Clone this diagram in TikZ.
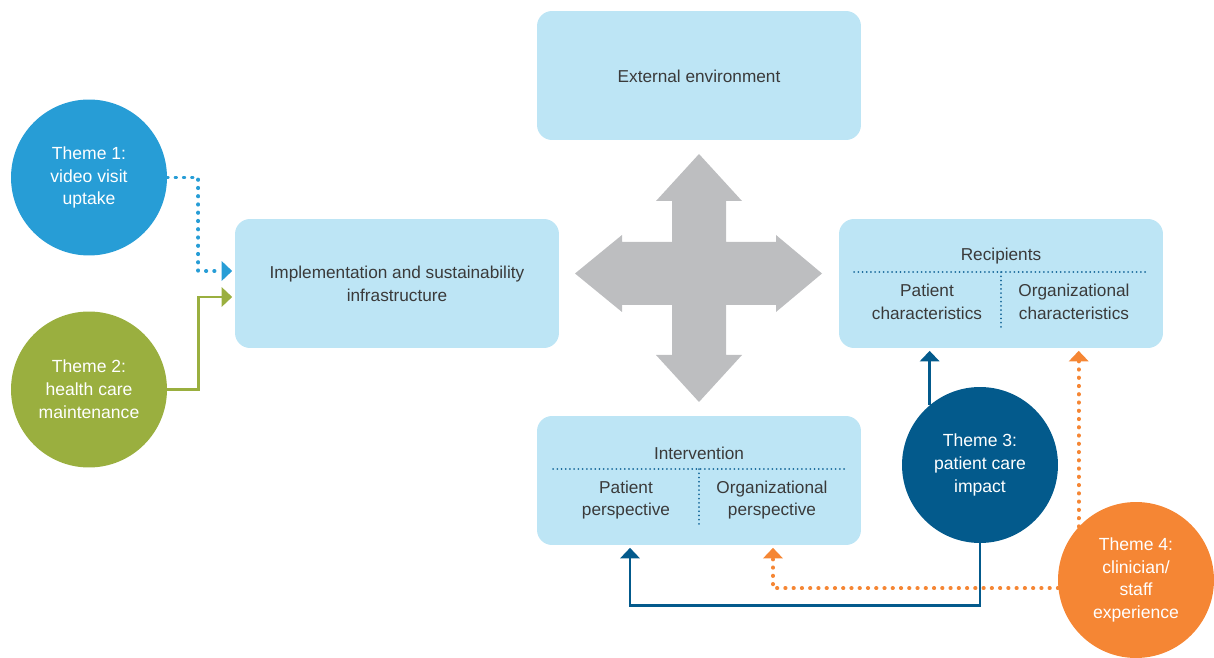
\documentclass[tikz,border=0pt]{standalone}
\usepackage{fontspec}
\setmainfont{Liberation Sans}
\usetikzlibrary{arrows.meta}

\definecolor{boxblue}{HTML}{BDE5F5}
\definecolor{txtgray}{HTML}{3A3A3A}
\definecolor{crossgray}{HTML}{BDBEC0}
\definecolor{sepblue}{HTML}{1F6E9E}
\definecolor{themeone}{HTML}{279DD6}
\definecolor{themetwo}{HTML}{9AAF3F}
\definecolor{themethree}{HTML}{035A8C}
\definecolor{themefour}{HTML}{F58634}

\begin{document}
\begin{tikzpicture}[x=0.02cm, y=-0.02cm,
		box/.style={fill=boxblue, rounded corners=0.3cm, minimum width=6.48cm, minimum height=2.58cm, inner sep=0pt},
		boxtext/.style={text=txtgray, align=center, font=\fontsize{9.8}{13}\selectfont},
		theme/.style={circle, minimum size=3.12cm, inner sep=0pt, text=white, align=center, font=\fontsize{10}{13}\selectfont},
		link/.style={line width=1.4pt, -{Triangle[width=11pt,length=6pt]}, shorten >=0.05cm},
		dotlink/.style={line width=2.2pt, line cap=round, dash pattern=on 0.2pt off 4.5pt, -{Triangle[width=11pt,length=6pt]}, shorten >=0.05cm},
		sepline/.style={sepblue, line width=1pt, line cap=round, dash pattern=on 0.1pt off 2.3pt}]

		\useasboundingbox (0,0) rectangle (1214,658);

		% Cajas
		\node[box] (ext) at (699,75.5) {};
		\node[boxtext] (exttxt) at (699,76) {External environment};

		\node[box] (impl) at (397,283.5) {};
		\node[boxtext] (impltxt) at (397,284) {Implementation and sustainability\\infrastructure};

		\node[box] (recip) at (1001,283.5) {};
		\node[boxtext] (reciptitle) at (1001,256) {Recipients};
		\node[boxtext] (recippat) at (927,302) {Patient\\characteristics};
		\node[boxtext] (reciporg) at (1074,302) {Organizational\\characteristics};
		\draw[sepline] (854,272) -- (1148,272);
		\draw[sepline] (1001,272) -- (1001,330);

		\node[box] (interv) at (699,480.5) {};
		\node[boxtext] (intervtitle) at (699,453) {Intervention};
		\node[boxtext] (intervpat) at (626,500) {Patient\\perspective};
		\node[boxtext] (intervorg) at (772,500) {Organizational\\perspective};
		\draw[sepline] (553,469) -- (846,469);
		\draw[sepline] (699,469) -- (699,527);

		% Flecha de cuatro puntas
		\fill[crossgray] (699,154) -- (742,201) -- (726,201) -- (726,242) -- (776,242) -- (776,235)
			-- (822,273.5) -- (776,312) -- (776,305) -- (726,305) -- (726,355) -- (742,355)
			-- (699,402) -- (656,355) -- (672,355) -- (672,305) -- (622,305) -- (622,312)
			-- (575,273.5) -- (622,235) -- (622,242) -- (672,242) -- (672,201) -- (656,201) -- cycle;

		% Temas
		\node[theme, fill=themeone] (t1) at (89,177.5) {Theme 1:\\video visit\\uptake};
		\node[theme, fill=themetwo] (t2) at (89,389.5) {Theme 2:\\health care\\maintenance};
		\node[theme, fill=themethree] (t3) at (980,465) {Theme 3:\\patient care\\impact};
		\node[theme, fill=themefour] (t4) at (1136,580) {Theme 4:\\clinician/\\staff\\experience};

		% Conectores
		\draw[dotlink, themeone] (t1.east) -- ++(31,0) |- ([yshift=0.25cm]impl.west);
		\draw[link, themetwo] (t2.east) -- ++(31,0) |- ([yshift=-0.27cm]impl.west);
		\draw[link, themethree] (t3.130) -- (t3.130 |- recip.south);
		\draw[link, themethree] (t3.south) -- ++(0,62) -| ([xshift=-1.38cm]interv.south);
		\draw[dotlink, themefour] (t4.137) -- (t4.137 |- recip.south);
		\draw[dotlink, themefour] (t4.186) -| ([xshift=1.48cm]interv.south);

	\end{tikzpicture}
\end{document}
